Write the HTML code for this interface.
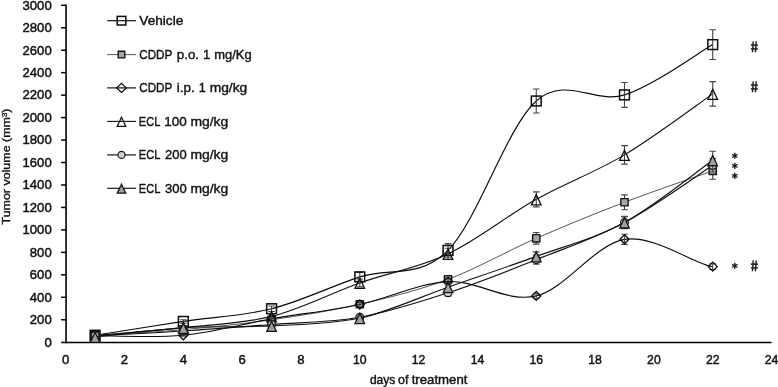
<!DOCTYPE html>
<html><head><meta charset="utf-8"><title>Tumor volume chart</title>
<style>html,body{margin:0;padding:0;background:#fff}svg{display:block}</style></head>
<body>
<svg width="778" height="387" viewBox="0 0 778 387" font-family="'Liberation Sans', sans-serif" fill="#111">
<rect width="778" height="387" fill="#fff"/>
<g stroke="#000" stroke-width="1.6" fill="none">
<path d="M66.05 4.6 V343.2"/>
<path d="M61.1 342.45 H771.5"/>
<path d="M61.1 319.74 H66.05" stroke-width="1.5"/>
<path d="M61.1 297.28 H66.05" stroke-width="1.5"/>
<path d="M61.1 274.82 H66.05" stroke-width="1.5"/>
<path d="M61.1 252.36 H66.05" stroke-width="1.5"/>
<path d="M61.1 229.90 H66.05" stroke-width="1.5"/>
<path d="M61.1 207.44 H66.05" stroke-width="1.5"/>
<path d="M61.1 184.98 H66.05" stroke-width="1.5"/>
<path d="M61.1 162.52 H66.05" stroke-width="1.5"/>
<path d="M61.1 140.06 H66.05" stroke-width="1.5"/>
<path d="M61.1 117.60 H66.05" stroke-width="1.5"/>
<path d="M61.1 95.14 H66.05" stroke-width="1.5"/>
<path d="M61.1 72.68 H66.05" stroke-width="1.5"/>
<path d="M61.1 50.22 H66.05" stroke-width="1.5"/>
<path d="M61.1 27.76 H66.05" stroke-width="1.5"/>
<path d="M61.1 5.30 H66.05" stroke-width="1.5"/>
</g>
<g font-size="13.2" text-anchor="end" stroke="#111" stroke-width="0.45">
<text x="51.7" y="346.50" textLength="7.3" lengthAdjust="spacingAndGlyphs">0</text>
<text x="51.7" y="324.04" textLength="21.9" lengthAdjust="spacingAndGlyphs">200</text>
<text x="51.7" y="301.58" textLength="21.9" lengthAdjust="spacingAndGlyphs">400</text>
<text x="51.7" y="279.12" textLength="21.9" lengthAdjust="spacingAndGlyphs">600</text>
<text x="51.7" y="256.66" textLength="21.9" lengthAdjust="spacingAndGlyphs">800</text>
<text x="51.7" y="234.20" textLength="29.2" lengthAdjust="spacingAndGlyphs">1000</text>
<text x="51.7" y="211.74" textLength="29.2" lengthAdjust="spacingAndGlyphs">1200</text>
<text x="51.7" y="189.28" textLength="29.2" lengthAdjust="spacingAndGlyphs">1400</text>
<text x="51.7" y="166.82" textLength="29.2" lengthAdjust="spacingAndGlyphs">1600</text>
<text x="51.7" y="144.36" textLength="29.2" lengthAdjust="spacingAndGlyphs">1800</text>
<text x="51.7" y="121.90" textLength="29.2" lengthAdjust="spacingAndGlyphs">2000</text>
<text x="51.7" y="99.44" textLength="29.2" lengthAdjust="spacingAndGlyphs">2200</text>
<text x="51.7" y="76.98" textLength="29.2" lengthAdjust="spacingAndGlyphs">2400</text>
<text x="51.7" y="54.52" textLength="29.2" lengthAdjust="spacingAndGlyphs">2600</text>
<text x="51.7" y="32.06" textLength="29.2" lengthAdjust="spacingAndGlyphs">2800</text>
<text x="51.7" y="9.60" textLength="29.2" lengthAdjust="spacingAndGlyphs">3000</text>
</g>
<g font-size="13.2" text-anchor="middle" stroke="#111" stroke-width="0.45">
<text x="65.70" y="364.2" textLength="7.3" lengthAdjust="spacingAndGlyphs">0</text>
<text x="124.52" y="364.2" textLength="7.3" lengthAdjust="spacingAndGlyphs">2</text>
<text x="183.34" y="364.2" textLength="7.3" lengthAdjust="spacingAndGlyphs">4</text>
<text x="242.16" y="364.2" textLength="7.3" lengthAdjust="spacingAndGlyphs">6</text>
<text x="300.98" y="364.2" textLength="7.3" lengthAdjust="spacingAndGlyphs">8</text>
<text x="359.80" y="364.2" textLength="13.6" lengthAdjust="spacingAndGlyphs">10</text>
<text x="418.62" y="364.2" textLength="13.6" lengthAdjust="spacingAndGlyphs">12</text>
<text x="477.44" y="364.2" textLength="13.6" lengthAdjust="spacingAndGlyphs">14</text>
<text x="536.26" y="364.2" textLength="13.6" lengthAdjust="spacingAndGlyphs">16</text>
<text x="595.08" y="364.2" textLength="13.6" lengthAdjust="spacingAndGlyphs">18</text>
<text x="653.90" y="364.2" textLength="13.6" lengthAdjust="spacingAndGlyphs">20</text>
<text x="712.72" y="364.2" textLength="13.6" lengthAdjust="spacingAndGlyphs">22</text>
<text x="771.54" y="364.2" textLength="13.6" lengthAdjust="spacingAndGlyphs">24</text>
</g>
<text y="384.4" font-size="12.2" stroke="#111" stroke-width="0.4" xml:space="preserve"><tspan x="369.9" textLength="25.4" lengthAdjust="spacingAndGlyphs">days</tspan> <tspan x="398.1" textLength="10.4" lengthAdjust="spacingAndGlyphs">of</tspan> <tspan x="411.7" textLength="55.8" lengthAdjust="spacingAndGlyphs">treatment</tspan></text>
<text transform="translate(10 224.5) rotate(-90)" font-size="11" stroke="#111" stroke-width="0.35" textLength="116" lengthAdjust="spacingAndGlyphs">Tumor volume (mm<tspan dy="-3.5" font-size="7">3</tspan><tspan dy="3.5">)</tspan></text>
<path d="M95.11 335.24 C109.81 332.94 153.93 325.84 183.34 321.42 C212.75 317.01 242.16 316.17 271.57 308.73 C300.98 301.30 330.39 286.57 359.80 276.84 C389.21 267.11 418.62 279.65 448.03 250.34 C477.44 221.03 506.85 126.88 536.26 100.98 C565.67 75.08 595.08 104.31 624.49 94.92 C653.90 85.52 698.01 52.99 712.72 44.61" fill="none" stroke="#0a0a0a" stroke-width="1.15"/>
<g stroke="#444" stroke-width="1.1" fill="none">
<path d="M95.11 334.34 V336.14 M91.81 334.34 H98.41 M91.81 336.14 H98.41"/>
<path d="M183.34 319.74 V323.11 M180.04 319.74 H186.64 M180.04 323.11 H186.64"/>
<path d="M271.57 305.93 V311.54 M268.27 305.93 H274.87 M268.27 311.54 H274.87"/>
<path d="M359.80 272.35 V281.33 M356.50 272.35 H363.10 M356.50 281.33 H363.10"/>
<path d="M448.03 243.60 V257.08 M444.73 243.60 H451.33 M444.73 257.08 H451.33"/>
<path d="M536.26 88.96 V113.00 M532.96 88.96 H539.56 M532.96 113.00 H539.56"/>
<path d="M624.49 82.45 V107.38 M621.19 82.45 H627.79 M621.19 107.38 H627.79"/>
<path d="M712.72 29.78 V59.43 M709.42 29.78 H716.02 M709.42 59.43 H716.02"/>
</g>
<rect x="90.21" y="330.34" width="9.80" height="9.80" fill="none" stroke="#0a0a0a" stroke-width="1.5"/>
<rect x="178.44" y="316.52" width="9.80" height="9.80" fill="none" stroke="#0a0a0a" stroke-width="1.5"/>
<rect x="266.67" y="303.83" width="9.80" height="9.80" fill="none" stroke="#0a0a0a" stroke-width="1.5"/>
<rect x="354.90" y="271.94" width="9.80" height="9.80" fill="none" stroke="#0a0a0a" stroke-width="1.5"/>
<rect x="443.13" y="245.44" width="9.80" height="9.80" fill="none" stroke="#0a0a0a" stroke-width="1.5"/>
<rect x="531.36" y="96.08" width="9.80" height="9.80" fill="none" stroke="#0a0a0a" stroke-width="1.5"/>
<rect x="619.59" y="90.02" width="9.80" height="9.80" fill="none" stroke="#0a0a0a" stroke-width="1.5"/>
<rect x="707.82" y="39.71" width="9.80" height="9.80" fill="none" stroke="#0a0a0a" stroke-width="1.5"/>
<path d="M95.11 335.46 C109.81 334.49 153.93 332.24 183.34 329.62 C212.75 327.00 242.16 323.97 271.57 319.74 C300.98 315.51 330.39 310.98 359.80 304.24 C389.21 297.50 418.62 290.30 448.03 279.31 C477.44 268.33 506.85 251.16 536.26 238.32 C565.67 225.48 595.08 213.52 624.49 202.27 C653.90 191.03 698.01 176.07 712.72 170.83" fill="none" stroke="#555" stroke-width="1.00"/>
<g stroke="#444" stroke-width="1.1" fill="none">
<path d="M95.11 334.79 V336.14 M91.81 334.79 H98.41 M91.81 336.14 H98.41"/>
<path d="M183.34 328.50 V330.75 M180.04 328.50 H186.64 M180.04 330.75 H186.64"/>
<path d="M271.57 318.06 V321.42 M268.27 318.06 H274.87 M268.27 321.42 H274.87"/>
<path d="M359.80 302.00 V306.49 M356.50 302.00 H363.10 M356.50 306.49 H363.10"/>
<path d="M448.03 275.94 V282.68 M444.73 275.94 H451.33 M444.73 282.68 H451.33"/>
<path d="M536.26 232.48 V244.16 M532.96 232.48 H539.56 M532.96 244.16 H539.56"/>
<path d="M624.49 194.86 V209.69 M621.19 194.86 H627.79 M621.19 209.69 H627.79"/>
<path d="M712.72 162.41 V179.25 M709.42 162.41 H716.02 M709.42 179.25 H716.02"/>
</g>
<rect x="91.46" y="331.81" width="7.30" height="7.30" fill="#a6a6a6" stroke="#151515" stroke-width="1.4" stroke-linejoin="round"/>
<rect x="179.69" y="325.97" width="7.30" height="7.30" fill="#a6a6a6" stroke="#151515" stroke-width="1.4" stroke-linejoin="round"/>
<rect x="267.92" y="316.09" width="7.30" height="7.30" fill="#a6a6a6" stroke="#151515" stroke-width="1.4" stroke-linejoin="round"/>
<rect x="356.15" y="300.59" width="7.30" height="7.30" fill="#a6a6a6" stroke="#151515" stroke-width="1.4" stroke-linejoin="round"/>
<rect x="444.38" y="275.66" width="7.30" height="7.30" fill="#a6a6a6" stroke="#151515" stroke-width="1.4" stroke-linejoin="round"/>
<rect x="532.61" y="234.67" width="7.30" height="7.30" fill="#a6a6a6" stroke="#151515" stroke-width="1.4" stroke-linejoin="round"/>
<rect x="620.84" y="198.62" width="7.30" height="7.30" fill="#a6a6a6" stroke="#151515" stroke-width="1.4" stroke-linejoin="round"/>
<rect x="709.07" y="167.18" width="7.30" height="7.30" fill="#a6a6a6" stroke="#151515" stroke-width="1.4" stroke-linejoin="round"/>
<path d="M95.11 335.69 C109.81 335.61 153.93 338.04 183.34 335.24 C212.75 332.43 242.16 323.97 271.57 318.84 C300.98 313.71 330.39 310.68 359.80 304.47 C389.21 298.25 418.62 282.98 448.03 281.56 C477.44 280.14 506.85 302.97 536.26 295.93 C565.67 288.89 595.08 244.22 624.49 239.33 C653.90 234.45 695.07 264.58 712.72 266.62" fill="none" stroke="#0a0a0a" stroke-width="1.15"/>
<g stroke="#444" stroke-width="1.1" fill="none">
<path d="M95.11 335.01 V336.36 M91.81 335.01 H98.41 M91.81 336.36 H98.41"/>
<path d="M183.34 334.34 V336.14 M180.04 334.34 H186.64 M180.04 336.14 H186.64"/>
<path d="M271.57 317.16 V320.53 M268.27 317.16 H274.87 M268.27 320.53 H274.87"/>
<path d="M359.80 302.22 V306.71 M356.50 302.22 H363.10 M356.50 306.71 H363.10"/>
<path d="M448.03 278.19 V284.93 M444.73 278.19 H451.33 M444.73 284.93 H451.33"/>
<path d="M536.26 293.69 V298.18 M532.96 293.69 H539.56 M532.96 298.18 H539.56"/>
<path d="M624.49 234.28 V244.39 M621.19 234.28 H627.79 M621.19 244.39 H627.79"/>
<path d="M712.72 263.81 V269.43 M709.42 263.81 H716.02 M709.42 269.43 H716.02"/>
</g>
<path d="M95.11 331.19 L99.61 335.69 L95.11 340.19 L90.61 335.69Z" fill="none" stroke="#0a0a0a" stroke-width="1.3"/>
<path d="M183.34 330.74 L187.84 335.24 L183.34 339.74 L178.84 335.24Z" fill="none" stroke="#0a0a0a" stroke-width="1.3"/>
<path d="M271.57 314.34 L276.07 318.84 L271.57 323.34 L267.07 318.84Z" fill="none" stroke="#0a0a0a" stroke-width="1.3"/>
<path d="M359.80 299.97 L364.30 304.47 L359.80 308.97 L355.30 304.47Z" fill="none" stroke="#0a0a0a" stroke-width="1.3"/>
<path d="M448.03 277.06 L452.53 281.56 L448.03 286.06 L443.53 281.56Z" fill="none" stroke="#0a0a0a" stroke-width="1.3"/>
<path d="M536.26 291.43 L540.76 295.93 L536.26 300.43 L531.76 295.93Z" fill="none" stroke="#0a0a0a" stroke-width="1.3"/>
<path d="M624.49 234.83 L628.99 239.33 L624.49 243.83 L619.99 239.33Z" fill="none" stroke="#0a0a0a" stroke-width="1.3"/>
<path d="M712.72 262.12 L717.22 266.62 L712.72 271.12 L708.22 266.62Z" fill="none" stroke="#0a0a0a" stroke-width="1.3"/>
<path d="M95.11 335.46 C109.81 334.15 153.93 330.78 183.34 327.60 C212.75 324.42 242.16 323.82 271.57 316.37 C300.98 308.92 330.39 293.31 359.80 282.91 C389.21 272.50 418.62 267.86 448.03 253.93 C477.44 240.01 506.85 215.86 536.26 199.35 C565.67 182.85 595.08 172.46 624.49 154.88 C653.90 137.31 698.01 104.07 712.72 93.90" fill="none" stroke="#111" stroke-width="1.10"/>
<g stroke="#444" stroke-width="1.1" fill="none">
<path d="M95.11 334.79 V336.14 M91.81 334.79 H98.41 M91.81 336.14 H98.41"/>
<path d="M183.34 326.48 V328.72 M180.04 326.48 H186.64 M180.04 328.72 H186.64"/>
<path d="M271.57 314.12 V318.62 M268.27 314.12 H274.87 M268.27 318.62 H274.87"/>
<path d="M359.80 278.98 V286.84 M356.50 278.98 H363.10 M356.50 286.84 H363.10"/>
<path d="M448.03 248.32 V259.55 M444.73 248.32 H451.33 M444.73 259.55 H451.33"/>
<path d="M536.26 191.83 V206.88 M532.96 191.83 H539.56 M532.96 206.88 H539.56"/>
<path d="M624.49 145.67 V164.09 M621.19 145.67 H627.79 M621.19 164.09 H627.79"/>
<path d="M712.72 81.66 V106.15 M709.42 81.66 H716.02 M709.42 106.15 H716.02"/>
</g>
<path d="M95.11 330.76 L99.91 340.96 L90.31 340.96Z" fill="none" stroke="#111" stroke-width="1.3"/>
<path d="M183.34 322.90 L188.14 333.10 L178.54 333.10Z" fill="none" stroke="#111" stroke-width="1.3"/>
<path d="M271.57 311.67 L276.37 321.87 L266.77 321.87Z" fill="none" stroke="#111" stroke-width="1.3"/>
<path d="M359.80 278.21 L364.60 288.41 L355.00 288.41Z" fill="none" stroke="#111" stroke-width="1.3"/>
<path d="M448.03 249.23 L452.83 259.43 L443.23 259.43Z" fill="none" stroke="#111" stroke-width="1.3"/>
<path d="M536.26 194.65 L541.06 204.85 L531.46 204.85Z" fill="none" stroke="#111" stroke-width="1.3"/>
<path d="M624.49 150.18 L629.29 160.38 L619.69 160.38Z" fill="none" stroke="#111" stroke-width="1.3"/>
<path d="M712.72 89.20 L717.52 99.40 L707.92 99.40Z" fill="none" stroke="#111" stroke-width="1.3"/>
<path d="M95.11 335.69 C109.81 334.90 153.93 332.84 183.34 330.97 C212.75 329.10 242.16 326.74 271.57 324.46 C300.98 322.17 330.39 322.55 359.80 317.27 C389.21 311.99 418.62 302.39 448.03 292.79 C477.44 283.19 506.85 271.38 536.26 259.66 C565.67 247.94 595.08 238.21 624.49 222.49 C653.90 206.77 698.01 174.85 712.72 165.33" fill="none" stroke="#111" stroke-width="1.15"/>
<g stroke="#444" stroke-width="1.1" fill="none">
<path d="M95.11 335.01 V336.36 M91.81 335.01 H98.41 M91.81 336.36 H98.41"/>
<path d="M183.34 330.07 V331.87 M180.04 330.07 H186.64 M180.04 331.87 H186.64"/>
<path d="M271.57 323.11 V325.80 M268.27 323.11 H274.87 M268.27 325.80 H274.87"/>
<path d="M359.80 315.25 V319.29 M356.50 315.25 H363.10 M356.50 319.29 H363.10"/>
<path d="M448.03 289.42 V296.16 M444.73 289.42 H451.33 M444.73 296.16 H451.33"/>
<path d="M536.26 255.17 V264.15 M532.96 255.17 H539.56 M532.96 264.15 H539.56"/>
<path d="M624.49 216.87 V228.10 M621.19 216.87 H627.79 M621.19 228.10 H627.79"/>
<path d="M712.72 158.59 V172.07 M709.42 158.59 H716.02 M709.42 172.07 H716.02"/>
</g>
<circle cx="95.11" cy="335.69" r="3.90" fill="#d0d0d0" stroke="#1a1a1a" stroke-width="1.2"/>
<circle cx="183.34" cy="330.97" r="3.90" fill="#d0d0d0" stroke="#1a1a1a" stroke-width="1.2"/>
<circle cx="271.57" cy="324.46" r="3.90" fill="#d0d0d0" stroke="#1a1a1a" stroke-width="1.2"/>
<circle cx="359.80" cy="317.27" r="3.90" fill="#d0d0d0" stroke="#1a1a1a" stroke-width="1.2"/>
<circle cx="448.03" cy="292.79" r="3.90" fill="#d0d0d0" stroke="#1a1a1a" stroke-width="1.2"/>
<circle cx="536.26" cy="259.66" r="3.90" fill="#d0d0d0" stroke="#1a1a1a" stroke-width="1.2"/>
<circle cx="624.49" cy="222.49" r="3.90" fill="#d0d0d0" stroke="#1a1a1a" stroke-width="1.2"/>
<circle cx="712.72" cy="165.33" r="3.90" fill="#d0d0d0" stroke="#1a1a1a" stroke-width="1.2"/>
<path d="M95.11 336.92 C109.81 335.41 153.93 329.66 183.34 327.83 C212.75 325.99 242.16 327.54 271.57 325.92 C300.98 324.29 330.39 324.51 359.80 318.06 C389.21 311.60 418.62 297.45 448.03 287.17 C477.44 276.90 506.85 267.18 536.26 256.40 C565.67 245.62 595.08 238.51 624.49 222.49 C653.90 206.47 698.01 170.64 712.72 160.27" fill="none" stroke="#111" stroke-width="1.15"/>
<g stroke="#444" stroke-width="1.1" fill="none">
<path d="M95.11 336.25 V337.60 M91.81 336.25 H98.41 M91.81 337.60 H98.41"/>
<path d="M183.34 326.70 V328.95 M180.04 326.70 H186.64 M180.04 328.95 H186.64"/>
<path d="M271.57 324.57 V327.26 M268.27 324.57 H274.87 M268.27 327.26 H274.87"/>
<path d="M359.80 316.03 V320.08 M356.50 316.03 H363.10 M356.50 320.08 H363.10"/>
<path d="M448.03 283.80 V290.54 M444.73 283.80 H451.33 M444.73 290.54 H451.33"/>
<path d="M536.26 251.91 V260.89 M532.96 251.91 H539.56 M532.96 260.89 H539.56"/>
<path d="M624.49 216.31 V228.66 M621.19 216.31 H627.79 M621.19 228.66 H627.79"/>
<path d="M712.72 151.29 V169.26 M709.42 151.29 H716.02 M709.42 169.26 H716.02"/>
</g>
<path d="M95.11 332.22 L99.91 342.42 L90.31 342.42Z" fill="#a0a0a0" stroke="#151515" stroke-width="1.3"/>
<path d="M183.34 323.13 L188.14 333.33 L178.54 333.33Z" fill="#a0a0a0" stroke="#151515" stroke-width="1.3"/>
<path d="M271.57 321.22 L276.37 331.42 L266.77 331.42Z" fill="#a0a0a0" stroke="#151515" stroke-width="1.3"/>
<path d="M359.80 313.36 L364.60 323.56 L355.00 323.56Z" fill="#a0a0a0" stroke="#151515" stroke-width="1.3"/>
<path d="M448.03 282.47 L452.83 292.67 L443.23 292.67Z" fill="#a0a0a0" stroke="#151515" stroke-width="1.3"/>
<path d="M536.26 251.70 L541.06 261.90 L531.46 261.90Z" fill="#a0a0a0" stroke="#151515" stroke-width="1.3"/>
<path d="M624.49 217.79 L629.29 227.99 L619.69 227.99Z" fill="#a0a0a0" stroke="#151515" stroke-width="1.3"/>
<path d="M712.72 155.57 L717.52 165.77 L707.92 165.77Z" fill="#a0a0a0" stroke="#151515" stroke-width="1.3"/>
<path d="M107.2 20.70 H136" stroke="#0a0a0a" stroke-width="1.15"/>
<rect x="117.20" y="16.40" width="8.60" height="8.60" fill="none" stroke="#0a0a0a" stroke-width="1.5"/>
<text y="25.20" font-size="13.6" stroke="#111" stroke-width="0.4" xml:space="preserve"><tspan x="139.3" textLength="44.0" lengthAdjust="spacingAndGlyphs">Vehicle</tspan></text>
<path d="M107.2 54.60 H136" stroke="#555" stroke-width="1.00"/>
<rect x="118.20" y="51.30" width="6.60" height="6.60" fill="#a6a6a6" stroke="#151515" stroke-width="1.4" stroke-linejoin="round"/>
<text y="59.10" font-size="13.6" stroke="#111" stroke-width="0.4" xml:space="preserve"><tspan x="139.2" textLength="33.0" lengthAdjust="spacingAndGlyphs">CDDP</tspan> <tspan x="176.8" textLength="22.3" lengthAdjust="spacingAndGlyphs">p.o.</tspan> <tspan x="203.1" textLength="7.2" lengthAdjust="spacingAndGlyphs">1</tspan> <tspan x="214.2" textLength="37.4" lengthAdjust="spacingAndGlyphs">mg/Kg</tspan></text>
<path d="M107.2 87.90 H136" stroke="#0a0a0a" stroke-width="1.15"/>
<path d="M121.50 83.40 L126.30 87.90 L121.50 92.40 L116.70 87.90Z" fill="none" stroke="#0a0a0a" stroke-width="1.3"/>
<text y="92.40" font-size="13.6" stroke="#111" stroke-width="0.4" xml:space="preserve"><tspan x="139.2" textLength="33.0" lengthAdjust="spacingAndGlyphs">CDDP</tspan> <tspan x="176.8" textLength="17.9" lengthAdjust="spacingAndGlyphs">i.p.</tspan> <tspan x="198.8" textLength="7.0" lengthAdjust="spacingAndGlyphs">1</tspan> <tspan x="209.7" textLength="37.6" lengthAdjust="spacingAndGlyphs">mg/kg</tspan></text>
<path d="M107.2 121.40 H136" stroke="#111" stroke-width="1.10"/>
<path d="M121.50 117.31 L125.72 126.29 L117.28 126.29Z" fill="none" stroke="#111" stroke-width="1.3"/>
<text y="125.90" font-size="13.6" stroke="#111" stroke-width="0.4" xml:space="preserve"><tspan x="138.8" textLength="21.2" lengthAdjust="spacingAndGlyphs">ECL</tspan> <tspan x="164.2" textLength="22.5" lengthAdjust="spacingAndGlyphs">100</tspan> <tspan x="190.4" textLength="37.9" lengthAdjust="spacingAndGlyphs">mg/kg</tspan></text>
<path d="M107.2 154.90 H136" stroke="#111" stroke-width="1.15"/>
<circle cx="121.50" cy="154.90" r="3.55" fill="#d0d0d0" stroke="#1a1a1a" stroke-width="1.2"/>
<text y="159.40" font-size="13.6" stroke="#111" stroke-width="0.4" xml:space="preserve"><tspan x="138.8" textLength="21.2" lengthAdjust="spacingAndGlyphs">ECL</tspan> <tspan x="165.1" textLength="21.6" lengthAdjust="spacingAndGlyphs">200</tspan> <tspan x="190.4" textLength="37.9" lengthAdjust="spacingAndGlyphs">mg/kg</tspan></text>
<path d="M107.2 188.30 H136" stroke="#111" stroke-width="1.15"/>
<path d="M121.50 184.21 L125.72 193.19 L117.28 193.19Z" fill="#a0a0a0" stroke="#151515" stroke-width="1.3"/>
<text y="192.80" font-size="13.6" stroke="#111" stroke-width="0.4" xml:space="preserve"><tspan x="138.8" textLength="21.2" lengthAdjust="spacingAndGlyphs">ECL</tspan> <tspan x="165.0" textLength="21.7" lengthAdjust="spacingAndGlyphs">300</tspan> <tspan x="190.4" textLength="37.9" lengthAdjust="spacingAndGlyphs">mg/kg</tspan></text>
<g font-size="15" font-weight="bold" text-anchor="middle" stroke="#111" stroke-width="0.45">
<text transform="translate(754.3 46.7) skewX(6)" x="0" y="5.3" textLength="7.3" lengthAdjust="spacingAndGlyphs">#</text>
<text transform="translate(754.3 86.7) skewX(6)" x="0" y="5.3" textLength="7.3" lengthAdjust="spacingAndGlyphs">#</text>
<text transform="translate(754.3 266.1) skewX(6)" x="0" y="5.3" textLength="7.3" lengthAdjust="spacingAndGlyphs">#</text>
</g>
<g font-family="'DejaVu Sans', 'Liberation Sans', sans-serif" font-size="11.5" font-weight="bold" text-anchor="middle" stroke="#111" stroke-width="0.35">
<text x="734.7" y="162.0">*</text>
<text x="734.7" y="172.0">*</text>
<text x="734.7" y="182.0">*</text>
<text x="734.7" y="272.0">*</text>
</g>
</svg>
</body></html>
